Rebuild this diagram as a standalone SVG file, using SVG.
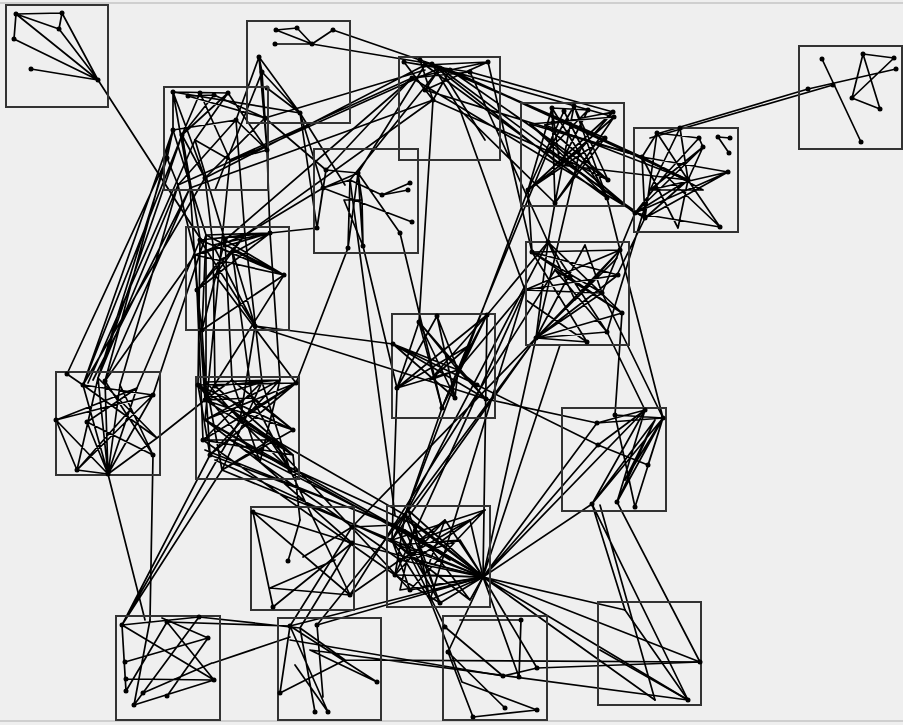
<svg xmlns="http://www.w3.org/2000/svg" width="903" height="725" viewBox="0 0 903 725">
<style>
.bg{fill:#efefef}
.frame{stroke:#c4c4c4;stroke-width:1.5}
.box{fill:none;stroke:#333;stroke-width:2}
.e{fill:none;stroke:#000;stroke-width:1.7;stroke-linecap:round}
circle{fill:#000}
</style>
<rect class="bg" x="0" y="0" width="903" height="725"/>
<line class="frame" x1="0" y1="3" x2="903" y2="3"/>
<line class="frame" x1="0" y1="721" x2="903" y2="721"/>
<g id="connectors">
<path class="e" d="M16 14L62 13M16 14L59 29M16 14L14 39M62 13L59 29M59 29L98 80M62 13L98 80M16 14L98 80M14 39L98 80M31 69L98 80M98 80L200 238M98 80L196 232"/>
<path class="e" d="M822 59L861 142M863 54L894 58M863 54L852 98M863 54L880 109M894 58L852 98M852 98L880 109M896 69L808 89M808 89L660 133M833 85L650 138"/>
<path class="e" d="M276 30L297 28M297 28L312 44M276 30L312 44M312 44L333 30M275 44L312 44M333 30L420 60M312 44L432 64M259 57L300 113M262 72L300 113M259 57L262 72M259 57L267 150M262 72L267 150M259 57L236 120M262 72L215 190M300 113L173 92M300 113L345 185M267 88L300 113"/>
<path class="e" d="M173 92L228 93M188 96L214 95M173 92L205 178M173 92L173 130M200 93L182 135M228 93L182 135M228 93L195 140M214 95L265 118M188 96L265 118M173 130L167 158M182 135L205 178M182 135L190 188M167 158L178 185M173 130L236 120M236 120L267 150M195 140L230 160M230 160L267 150M205 178L265 118M228 93L267 150M178 185L236 120M200 93L230 160M173 92L190 188M214 95L182 135"/>
<path class="e" d="M265 118L425 70M230 160L412 78M205 178L425 65M190 188L433 100M178 185L440 68"/>
<path class="e" d="M83 385L173 130M83 385L182 135M98 378L167 158M98 378L178 185M105 381L173 130M88 383L195 140M105 381L190 188M67 374L167 158M120 385L178 185M98 378L182 135M83 385L205 178M93 380L190 188"/>
<path class="e" d="M182 135L200 238M173 130L206 235M205 178L213 245M195 140L225 240M230 160L220 260M190 188L197 290M178 185L195 255M236 120L245 235M267 150L270 233"/>
<path class="e" d="M200 240L284 275M206 235L284 275M213 245L284 275M225 240L284 275M195 255L270 233M200 240L270 233M213 245L255 326M206 235L202 330M220 260L197 290M232 250L255 326M245 235L215 275M195 255L245 235M197 290L202 330M284 275L202 330M200 240L255 326M206 235L270 233M213 245L270 233M225 240L202 330M245 235L197 290M232 250L284 275M220 260L270 233M195 255L284 275M200 240L245 235M197 290L270 233"/>
<path class="e" d="M206 235L206 382M213 245L215 386M200 240L198 385M225 240L232 380M220 260L205 420M232 250L252 398M245 235L262 382M270 233L280 380M197 290L203 440M215 275L296 383M255 326L240 420M202 330L210 455M284 275L205 400M195 255L205 400M200 240L137 388M206 235L153 395M195 255L105 381M245 235L433 100M225 240L412 78M255 326L393 344M255 326L486 399"/>
<path class="e" d="M326 170L358 173M323 188L358 173M323 188L350 180M358 173L362 200M358 173L348 248M358 173L363 246M323 188L317 228M326 170L317 228M350 180L382 195M382 195L410 183M382 195L408 190M362 200L363 246M350 180L348 248M358 173L400 233M323 188L412 222M362 200L344 200M344 200L363 246"/>
<path class="e" d="M358 173L425 65M326 170L412 78M350 180L440 68M323 188L300 113M317 228L300 113M350 180L395 515M326 170L265 118M317 228L270 233M323 188L245 235M348 248L296 383M363 246L397 388M400 233L442 408"/>
<path class="e" d="M404 62L450 70M404 62L425 90M425 65L488 62M412 78L470 72M420 60L433 100M432 64L460 110M440 68L485 140M450 70L412 78M425 90L488 62M404 62L470 72M412 78L488 62M420 60L450 70M425 90L440 68M433 100L450 70M404 62L433 100"/>
<path class="e" d="M440 68L605 138M450 70L608 180M425 65L607 198M432 64L560 165M425 90L642 157M412 78L645 218M433 100L548 151M470 72L613 112M460 110L555 203M450 70L688 180M440 68L635 213M470 72L548 242M488 62L532 252M460 110L525 290M433 100L419 322M440 68L614 117M432 64L605 138M450 70L642 157"/>
<path class="e" d="M552 108L528 190M552 108L555 203M564 111L607 198M574 106L548 151M588 110L560 165M613 112L580 150M614 117L555 203M605 138L528 190M548 151L608 180M530 124L607 198M545 125L613 112M580 150L528 190M560 165L614 117M574 106L608 180M552 108L588 110M552 108L607 198M564 111L528 190M574 106L555 203M588 110L548 151M605 138L555 203M613 112L528 190M530 124L614 117M545 125L608 180M560 165L552 108M574 106L607 198"/>
<path class="e" d="M545 125L688 180M530 124L642 157M548 151L645 218M560 165L688 180M530 124L635 213M555 203L548 242M528 190L532 252M607 198L620 250M580 150L536 338M528 190L405 515M548 151L442 408"/>
<path class="e" d="M657 133L699 138M699 138L703 147M718 137L730 138M718 137L729 153M642 157L688 180M657 133L688 180M657 133L642 157M680 128L650 190M642 157L728 172M688 180L720 227M665 175L720 227M650 190L703 190M635 213L688 180M645 218L728 172M678 228L688 180M642 157L645 218M703 147L635 213M699 138L665 175M688 180L703 147M645 218L617 275M635 213L602 293M650 190L607 332M635 213L720 227M645 218L688 180M642 157L703 190M650 190L728 172M665 175L635 213M657 133L645 218M680 128L688 180M703 147L650 190M635 213L728 172M678 228L642 157"/>
<path class="e" d="M536 338L620 250M536 338L618 275M536 338L602 293M536 338L585 245M536 338L622 313M536 338L548 242M536 338L587 342M536 338L607 332M532 252L602 293M548 242L622 313M532 252L620 250M525 290L618 275M555 270L607 332M575 300L548 242M585 245L602 293M525 290L602 293M532 252L587 342M617 258L575 300M532 252L618 275M548 242L607 332M525 290L620 250M555 270L622 313M575 300L620 250M532 252L622 313M536 338L617 258M526 300L587 342"/>
<path class="e" d="M607 332L645 410M602 293L663 418M620 250L663 418M622 313L615 415M536 338L405 515M536 338L392 540M525 290L430 600M525 290L458 370M487 315L548 242"/>
<path class="e" d="M458 370L419 322M458 370L487 315M458 370L393 344M458 370L397 388M458 370L477 385M458 370L486 399M458 370L442 408M458 370L455 398M458 370L437 316M419 322L397 388M419 322L442 408M419 322L455 398M393 344L486 399M397 388L487 315M437 316L455 398M470 345L430 380M486 399L597 423M477 385L598 445M442 408L405 515M397 388L392 540M419 322L486 399M393 344L477 385M397 388L470 345M442 408L487 315M437 316L397 388M393 344L455 398M430 380L487 315M458 370L430 380"/>
<path class="e" d="M108 474L83 385M108 474L98 378M108 474L105 381M108 474L137 388M108 474L120 385M108 474L153 395M108 474L87 422M108 474L56 420M108 474L157 438M77 470L108 474M77 470L153 395M56 420L137 388M56 420L77 470M67 374L83 385M83 385L153 395M98 378L157 438M87 422L137 388M105 381L153 455M120 385L153 455M130 410L77 470M153 455L150 620M157 438L205 400M83 385L157 438M56 420L153 395M87 422L153 455M98 378L77 470"/>
<path class="e" d="M198 385L296 383M206 382L280 380M198 385L293 430M205 400L293 455M205 420L290 470M203 440L296 383M210 455L280 380M215 386L293 455M232 380L260 462M262 382L222 470M252 398L293 430M240 420L296 383M205 400L262 382M203 440L270 440M270 440L290 470M198 385L210 455M222 470L293 430M260 462L205 420M198 385L260 462M206 382L222 470M232 380L293 430M262 382L203 440M280 380L205 420M296 383L210 455M252 398L205 400M240 420L290 470M270 440L198 385M293 430L205 400M293 455L203 440M262 382L290 470M215 386L280 380M205 420L296 383M222 470L270 440M232 380L205 400M280 380L260 462M198 385L293 455M240 420L206 382M252 398L290 470"/>
<path class="e" d="M210 455L395 525M222 470L392 540M240 420L405 515M260 462L400 560M203 440L395 575M290 470L483 577M270 440L410 590M205 420L420 540M293 455L300 520M260 462L352 543M290 470L350 595M122 625L222 470M122 625L210 455M122 625L240 420M205 450L405 530M215 460L398 545M230 440L415 525M245 450L420 540"/>
<path class="e" d="M663 418L592 504M663 418L617 502M663 418L635 507M645 410L592 504M645 410L597 423M663 418L597 423M645 410L598 445M663 418L648 465M655 420L625 480M640 440L592 504M615 415L663 418M598 445L648 465M655 420L617 502M645 410L617 502M663 418L625 480M655 420L592 504M615 415L635 507"/>
<path class="e" d="M483 577L598 445M483 577L597 423M483 577L645 410M483 577L592 504M592 504L688 700M617 502L700 662M592 504L625 610M600 505L655 700"/>
<path class="e" d="M483 577L405 515M483 577L395 525M483 577L392 540M483 577L400 560M483 577L395 575M483 577L410 590M483 577L430 600M483 577L440 603M483 577L420 540M483 577L470 520M483 577L415 525M405 515L440 603M395 525L450 560M392 540L485 510M415 525L430 600M420 540L470 520"/>
<path class="e" d="M398 545L483 577M405 530L483 577M415 560L483 577M425 575L483 577M435 590L483 577M445 520L483 577M460 540L483 577M400 590L483 577M408 510L483 577M470 600L483 577M405 515L470 600M395 525L440 603M392 540L430 600M400 560L470 520M395 575L445 520M410 590L485 510M408 510L435 590M398 545L460 540M405 530L425 575M415 525L400 590M420 540L445 520M392 540L410 590M395 525L408 510M405 515L395 575M400 560L460 540M415 560L485 510M398 545L470 600M425 575L445 520M395 575L440 603M392 540L415 560"/>
<path class="e" d="M483 577L700 662M483 577L688 700M483 577L655 700M483 577L625 610M483 577L537 668M483 577L519 677M483 577L448 652M483 577L317 625M483 577L290 626M483 577L352 543M483 577L536 338M483 577L560 345M483 577L487 315"/>
<path class="e" d="M445 627L503 676M448 652L505 708M521 620L519 677M460 620L521 620M448 652L473 717M462 682L537 710M473 717L537 710M503 676L537 668M445 627L395 525M462 682L430 600M537 668L700 662M503 676L290 640"/>
<path class="e" d="M290 626L328 712M300 628L315 712M290 626L377 682M317 625L323 697M310 650L377 682M280 693L345 660M295 665L328 712M300 628L345 660M290 626L280 693M290 626L167 622M300 628L199 617M290 637L213 663M290 626L352 527M300 628L352 543M345 660L700 662M310 650L688 700M317 625L405 515"/>
<path class="e" d="M253 512L273 607M253 512L352 543M253 512L350 595M270 588L350 595M273 607L352 543M288 561L300 520M303 557L352 527M335 560L270 588M352 527L395 525M350 595L400 560M350 595L555 270M352 527L536 338M395 575L525 290M392 540L548 242"/>
<path class="e" d="M122 625L199 617M122 625L126 691M167 622L214 680M162 618L208 638M199 617L134 705M208 638L125 662M214 680L126 679M214 680L134 705M212 663L143 693M167 622L126 691M150 620L134 705M122 625L214 680M208 638L167 696M145 620L108 474"/>
<path class="e" d="M600 650L688 700M625 610L688 700"/>
</g>
<g id="cA"><rect class="box" x="6" y="5" width="102" height="102"/><circle cx="16" cy="14" r="2.5"/><circle cx="62" cy="13" r="2.5"/><circle cx="59" cy="29" r="2.5"/><circle cx="14" cy="39" r="2.5"/><circle cx="31" cy="69" r="2.5"/><circle cx="98" cy="80" r="2.5"/></g>
<g id="cB"><rect class="box" x="247" y="21" width="103" height="102"/><circle cx="276" cy="30" r="2.5"/><circle cx="297" cy="28" r="2.5"/><circle cx="312" cy="44" r="2.5"/><circle cx="333" cy="30" r="2.5"/><circle cx="275" cy="44" r="2.5"/><circle cx="259" cy="57" r="2.5"/><circle cx="262" cy="72" r="2.5"/><circle cx="300" cy="113" r="2.5"/><circle cx="267" cy="88" r="2.5"/></g>
<g id="cC"><rect class="box" x="399" y="57" width="101" height="103"/><circle cx="404" cy="62" r="2.5"/><circle cx="425" cy="65" r="2.5"/><circle cx="440" cy="68" r="2.5"/><circle cx="450" cy="70" r="2.5"/><circle cx="412" cy="78" r="2.5"/><circle cx="425" cy="90" r="2.5"/><circle cx="470" cy="72" r="2.5"/><circle cx="488" cy="62" r="2.5"/><circle cx="433" cy="100" r="2.5"/><circle cx="420" cy="60" r="2.5"/><circle cx="432" cy="64" r="2.5"/></g>
<g id="cD"><rect class="box" x="164" y="87" width="104" height="103"/><circle cx="173" cy="92" r="2.5"/><circle cx="188" cy="96" r="2.5"/><circle cx="200" cy="93" r="2.5"/><circle cx="214" cy="95" r="2.5"/><circle cx="228" cy="93" r="2.5"/><circle cx="173" cy="130" r="2.5"/><circle cx="182" cy="135" r="2.5"/><circle cx="167" cy="158" r="2.5"/><circle cx="236" cy="120" r="2.5"/><circle cx="267" cy="150" r="2.5"/><circle cx="205" cy="178" r="2.5"/><circle cx="265" cy="118" r="2.5"/></g>
<g id="cE"><rect class="box" x="521" y="103" width="103" height="103"/><circle cx="552" cy="108" r="2.5"/><circle cx="564" cy="111" r="2.5"/><circle cx="574" cy="106" r="2.5"/><circle cx="588" cy="110" r="2.5"/><circle cx="613" cy="112" r="2.5"/><circle cx="614" cy="117" r="2.5"/><circle cx="605" cy="138" r="2.5"/><circle cx="548" cy="151" r="2.5"/><circle cx="528" cy="190" r="2.5"/><circle cx="555" cy="203" r="2.5"/><circle cx="608" cy="180" r="2.5"/><circle cx="607" cy="198" r="2.5"/></g>
<g id="cF"><rect class="box" x="634" y="128" width="104" height="104"/><circle cx="657" cy="133" r="2.5"/><circle cx="680" cy="128" r="2.5"/><circle cx="699" cy="138" r="2.5"/><circle cx="703" cy="147" r="2.5"/><circle cx="718" cy="137" r="2.5"/><circle cx="730" cy="138" r="2.5"/><circle cx="729" cy="153" r="2.5"/><circle cx="642" cy="157" r="2.5"/><circle cx="688" cy="180" r="2.5"/><circle cx="728" cy="172" r="2.5"/><circle cx="635" cy="213" r="2.5"/><circle cx="645" cy="218" r="2.5"/><circle cx="720" cy="227" r="2.5"/></g>
<g id="cG"><rect class="box" x="799" y="46" width="103" height="103"/><circle cx="822" cy="59" r="2.5"/><circle cx="863" cy="54" r="2.5"/><circle cx="894" cy="58" r="2.5"/><circle cx="896" cy="69" r="2.5"/><circle cx="833" cy="85" r="2.5"/><circle cx="808" cy="89" r="2.5"/><circle cx="852" cy="98" r="2.5"/><circle cx="880" cy="109" r="2.5"/><circle cx="861" cy="142" r="2.5"/></g>
<g id="cH"><rect class="box" x="314" y="149" width="104" height="104"/><circle cx="326" cy="170" r="2.5"/><circle cx="323" cy="188" r="2.5"/><circle cx="358" cy="173" r="2.5"/><circle cx="410" cy="183" r="2.5"/><circle cx="408" cy="190" r="2.5"/><circle cx="382" cy="195" r="2.5"/><circle cx="317" cy="228" r="2.5"/><circle cx="412" cy="222" r="2.5"/><circle cx="400" cy="233" r="2.5"/><circle cx="348" cy="248" r="2.5"/><circle cx="363" cy="246" r="2.5"/></g>
<g id="cI"><rect class="box" x="186" y="227" width="103" height="103"/><circle cx="200" cy="240" r="2.5"/><circle cx="225" cy="240" r="2.5"/><circle cx="270" cy="233" r="2.5"/><circle cx="284" cy="275" r="2.5"/><circle cx="197" cy="290" r="2.5"/><circle cx="202" cy="330" r="2.5"/><circle cx="255" cy="326" r="2.5"/></g>
<g id="cJ"><rect class="box" x="526" y="242" width="103" height="103"/><circle cx="532" cy="252" r="2.5"/><circle cx="548" cy="242" r="2.5"/><circle cx="620" cy="250" r="2.5"/><circle cx="618" cy="275" r="2.5"/><circle cx="602" cy="293" r="2.5"/><circle cx="622" cy="313" r="2.5"/><circle cx="607" cy="332" r="2.5"/><circle cx="587" cy="342" r="2.5"/><circle cx="536" cy="338" r="2.5"/></g>
<g id="cK"><rect class="box" x="392" y="314" width="103" height="104"/><circle cx="437" cy="316" r="2.5"/><circle cx="419" cy="322" r="2.5"/><circle cx="487" cy="315" r="2.5"/><circle cx="393" cy="344" r="2.5"/><circle cx="458" cy="370" r="2.5"/><circle cx="397" cy="388" r="2.5"/><circle cx="477" cy="385" r="2.5"/><circle cx="486" cy="399" r="2.5"/><circle cx="442" cy="408" r="2.5"/><circle cx="455" cy="398" r="2.5"/></g>
<g id="cL"><rect class="box" x="56" y="372" width="104" height="103"/><circle cx="67" cy="374" r="2.5"/><circle cx="83" cy="385" r="2.5"/><circle cx="105" cy="381" r="2.5"/><circle cx="153" cy="395" r="2.5"/><circle cx="56" cy="420" r="2.5"/><circle cx="87" cy="422" r="2.5"/><circle cx="77" cy="470" r="2.5"/><circle cx="108" cy="474" r="2.5"/><circle cx="153" cy="455" r="2.5"/></g>
<g id="cM"><rect class="box" x="196" y="377" width="103" height="102"/><circle cx="198" cy="385" r="2.5"/><circle cx="215" cy="386" r="2.5"/><circle cx="296" cy="383" r="2.5"/><circle cx="293" cy="430" r="2.5"/><circle cx="205" cy="400" r="2.5"/><circle cx="203" cy="440" r="2.5"/><circle cx="210" cy="455" r="2.5"/><circle cx="290" cy="470" r="2.5"/></g>
<g id="cN"><rect class="box" x="562" y="408" width="104" height="103"/><circle cx="615" cy="415" r="2.5"/><circle cx="645" cy="410" r="2.5"/><circle cx="663" cy="418" r="2.5"/><circle cx="597" cy="423" r="2.5"/><circle cx="598" cy="445" r="2.5"/><circle cx="648" cy="465" r="2.5"/><circle cx="592" cy="504" r="2.5"/><circle cx="617" cy="502" r="2.5"/><circle cx="635" cy="507" r="2.5"/></g>
<g id="cO"><rect class="box" x="251" y="507" width="103" height="103"/><circle cx="253" cy="512" r="2.5"/><circle cx="273" cy="607" r="2.5"/><circle cx="288" cy="561" r="2.5"/><circle cx="352" cy="527" r="2.5"/><circle cx="352" cy="543" r="2.5"/><circle cx="350" cy="595" r="2.5"/></g>
<g id="cP"><rect class="box" x="387" y="506" width="103" height="101"/><circle cx="405" cy="515" r="2.5"/><circle cx="395" cy="525" r="2.5"/><circle cx="392" cy="540" r="2.5"/><circle cx="400" cy="560" r="2.5"/><circle cx="395" cy="575" r="2.5"/><circle cx="410" cy="590" r="2.5"/><circle cx="440" cy="603" r="2.5"/><circle cx="483" cy="577" r="2.5"/></g>
<g id="cQ"><rect class="box" x="116" y="616" width="104" height="104"/><circle cx="122" cy="625" r="2.5"/><circle cx="167" cy="622" r="2.5"/><circle cx="199" cy="617" r="2.5"/><circle cx="208" cy="638" r="2.5"/><circle cx="214" cy="680" r="2.5"/><circle cx="125" cy="662" r="2.5"/><circle cx="126" cy="679" r="2.5"/><circle cx="126" cy="691" r="2.5"/><circle cx="134" cy="705" r="2.5"/><circle cx="143" cy="693" r="2.5"/><circle cx="167" cy="696" r="2.5"/></g>
<g id="cR"><rect class="box" x="278" y="618" width="103" height="102"/><circle cx="290" cy="626" r="2.5"/><circle cx="317" cy="625" r="2.5"/><circle cx="280" cy="693" r="2.5"/><circle cx="315" cy="712" r="2.5"/><circle cx="328" cy="712" r="2.5"/><circle cx="377" cy="682" r="2.5"/></g>
<g id="cS"><rect class="box" x="443" y="616" width="104" height="104"/><circle cx="445" cy="627" r="2.5"/><circle cx="448" cy="652" r="2.5"/><circle cx="521" cy="620" r="2.5"/><circle cx="519" cy="677" r="2.5"/><circle cx="503" cy="676" r="2.5"/><circle cx="537" cy="668" r="2.5"/><circle cx="473" cy="717" r="2.5"/><circle cx="505" cy="708" r="2.5"/><circle cx="537" cy="710" r="2.5"/></g>
<g id="cT"><rect class="box" x="598" y="602" width="103" height="103"/><circle cx="700" cy="662" r="2.5"/><circle cx="688" cy="700" r="2.5"/></g>
</svg>
